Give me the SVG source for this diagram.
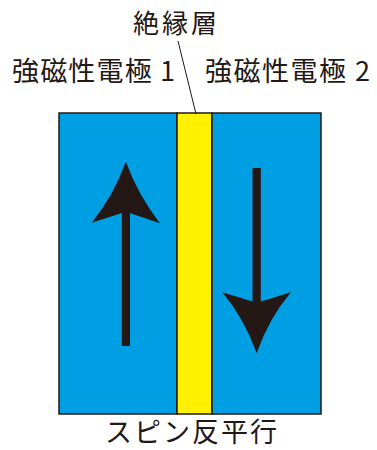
<svg xmlns="http://www.w3.org/2000/svg" width="377" height="450" viewBox="0 0 377 450">
<style>
.t{font-family:"Noto Sans CJK JP","Noto Sans",sans-serif;fill:#231815;text-anchor:middle}
.arr{fill:#231815}
</style>
<rect width="377" height="450" fill="#ffffff"/>
<g id="electrode1">
<rect x="59" y="113" width="118" height="301" fill="#009fe3" stroke="#231815" stroke-width="1.5"/>
</g>
<g id="insulator">
<rect x="177" y="113" width="35" height="301" fill="#fff100" stroke="#231815" stroke-width="1.5"/>
</g>
<g id="electrode2">
<rect x="212" y="113" width="109" height="301" fill="#009fe3" stroke="#231815" stroke-width="1.5"/>
</g>
<g id="arrow-up">
<rect class="arr" x="121.8" y="205" width="8.2" height="141"/>
<path class="arr" d="M125.8,161.5 Q138,195 160,223.3 L125.8,211.7 L91.7,222.7 Q114,195 125.8,161.5 Z"/>
</g>
<g id="arrow-down">
<rect class="arr" x="252.5" y="168" width="8.3" height="140"/>
<path class="arr" d="M256.7,353.3 Q244,318 222.3,292.3 L256.7,302.7 L291,292.3 Q269,318 256.7,353.3 Z"/>
</g>
<g id="connectors">
<line x1="178" y1="41" x2="196" y2="114" stroke="#231815" stroke-width="1"/>
</g>
<g id="labels">
<text class="t" x="175" y="33" font-size="26" textLength="84" lengthAdjust="spacing">絶縁層</text>
<text class="t" x="93.5" y="81" font-size="27" textLength="163" lengthAdjust="spacing">強磁性電極 1</text>
<text class="t" x="287.5" y="81" font-size="27" textLength="165" lengthAdjust="spacing">強磁性電極 2</text>
<text class="t" x="191" y="442" font-size="27" textLength="172" lengthAdjust="spacing">スピン反平行</text>
</g>
</svg>
